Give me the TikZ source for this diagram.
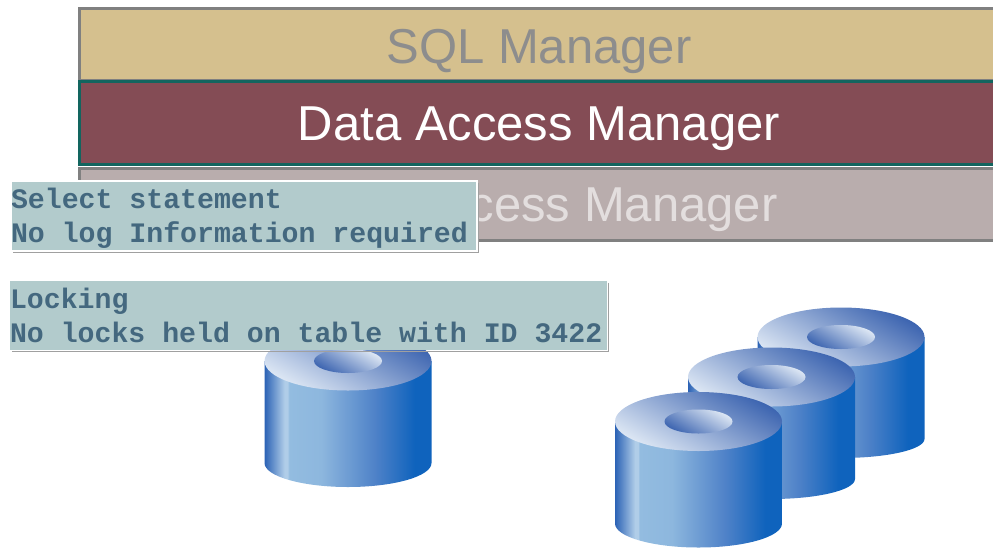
\documentclass[tikz,border=0pt]{standalone}
\usepackage{fontspec}
\setmainfont{Liberation Sans}
\setmonofont{Liberation Mono}
\definecolor{sqlfill}{HTML}{D5C08E}
\definecolor{datafill}{HTML}{844C55}
\definecolor{logfill}{HTML}{B9ADAD}
\definecolor{layeredge}{HTML}{808080}
\definecolor{dataedge}{HTML}{12655F}
\definecolor{notefill}{HTML}{B2CBCC}
\definecolor{notetext}{HTML}{44687F}
\definecolor{noteedge}{HTML}{A0A0A0}
\definecolor{facelight}{HTML}{DDE7F4}
\definecolor{facedark}{HTML}{3C64B0}
\definecolor{sideedge}{HTML}{2B62B5}
\definecolor{sideglow}{HTML}{B0CDE8}
\definecolor{sidelight}{HTML}{93BCE0}
\definecolor{sidepale}{HTML}{8DB7DE}
\definecolor{sidemid}{HTML}{4F82C8}
\definecolor{sidedark}{HTML}{0F63BD}
\pgfdeclarehorizontalshading{diskside}{100bp}{color(0bp)=(sideedge);
  color(25bp)=(sideedge);
  color(31bp)=(sideglow);
  color(32bp)=(sideglow);
  color(32.3bp)=(sidelight);
  color(42bp)=(sidepale);
  color(58bp)=(sidemid);
  color(70bp)=(sidedark);
  color(100bp)=(sidedark)}
\tikzset{
  layerbox/.style={draw=layeredge,line width=3pt,outer sep=0pt,minimum height=#1,anchor=north west,minimum width=916pt,inner sep=0pt},
  layertext/.style={font=\fontsize{49}{49}\selectfont},
  notebox/.style={fill=notefill,anchor=north west,inner sep=0pt,outer sep=0pt,text=notetext,font=\fontsize{28.2}{34}\selectfont\ttfamily\bfseries,execute at begin node={\spaceskip=16.92pt\xspaceskip=16.92pt\relax}},
  noteshadow/.style={draw=noteedge,line width=1.6pt},
  notelight/.style={draw=white,line width=1.4pt},
}
\begin{document}
\begin{tikzpicture}[x=1pt,y=-1pt]
  \useasboundingbox (0,0) rectangle (993,547);
  \clip (0,0) rectangle (993,547);
  % layers
  \node[layerbox=71.5pt,fill=sqlfill] (sqlbox) at (79,8.5) {};
  \node[layertext,text=layeredge!90] (sqltext) at (539,51) {SQL Manager};
  \node[layerbox=72pt,fill=logfill] (logbox) at (79,168) {};
  \node[layertext,text=white!60!logfill,anchor=east] (logtext) at (781,210) {cess Manager};
  \node[layerbox=83pt,draw=dataedge,fill=datafill] (databox) at (79,81) {};
  \node[layertext,text=white] (datatext) at (539,129) {Data Access Manager};
  % disks
  \foreach \cx/\cy/\rb in {348/361/24,841/337/19,771.5/377/20,698.5/421.5/24}{
    \shade[shading=diskside] (\cx-83.5,\cy) -- ++(0,102) arc[start angle=180,end angle=0,x radius=83.5,y radius=\rb] -- ++(0,-102) -- cycle;
    \shade[top color=facedark,bottom color=facelight,shading angle=-30] (\cx,\cy) ellipse [x radius=83.5,y radius=29.5];
    \shade[top color=facelight,bottom color=facedark,shading angle=-30] (\cx,\cy) ellipse [x radius=34,y radius=12];
  }
  % notes
  \node[notebox,minimum width=466pt,minimum height=70pt,text width=466pt] (selectnote) at (11,181) {\rule{0pt}{24pt}Select statement\\No log Information required};
  \draw[noteshadow] ([shift={(1.5,1.5)}]selectnote.north east) -- ([shift={(1.5,1.5)}]selectnote.south east) -- ([shift={(1.5,1.5)}]selectnote.south west);
  \draw[notelight] (selectnote.south west) rectangle (selectnote.north east);
  \node[notebox,minimum width=597pt,minimum height=69pt,text width=597pt] (locknote) at (10,281) {Locking\\No locks held on table with ID 3422};
  \draw[noteshadow] ([shift={(1.5,1.5)}]locknote.north east) -- ([shift={(1.5,1.5)}]locknote.south east) -- ([shift={(1.5,1.5)}]locknote.south west);
\end{tikzpicture}
\end{document}
